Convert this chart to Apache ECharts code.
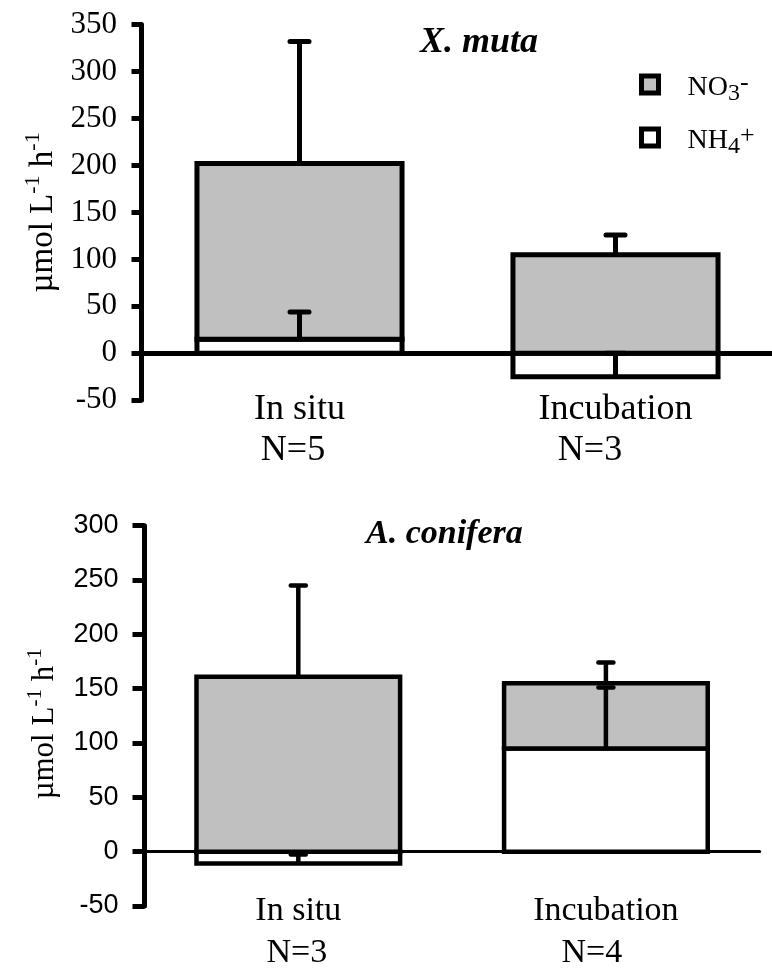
<!DOCTYPE html>
<html>
<head>
<meta charset="utf-8">
<script src="https://cdn.jsdelivr.net/npm/echarts@6/dist/echarts.min.js"></script>
<style>
html,body{margin:0;padding:0;background:#fff;}
#chart{width:772px;height:972px;}
</style>
</head>
<body>
<div id="chart"></div>
<script>
// ---------- data ----------
const categories = ['In situ', 'Incubation'];
// X. muta (top panel)
const xmN = ['N=5', 'N=3'];
const xmNH4 = [15, -25];
const xmNO3 = [187, 105];
const xmNO3ErrTop = [332, 126];   // upper end of the total (NO3) error bar
const xmNH4ErrEnd = [44, 0];      // end of the NH4 error bar
const xmTicks = [-50, 0, 50, 100, 150, 200, 250, 300, 350];
// A. conifera (bottom panel)
const acN = ['N=3', 'N=4'];
const acNH4 = [-11, 95];
const acNO3 = [161, 60];
const acNO3ErrTop = [245, 174];
const acNH4ErrEnd = [-2.5, 151];
const acTicks = [-50, 0, 50, 100, 150, 200, 250, 300];

// ---------- style ----------
const SERIF = "'Liberation Serif','Times New Roman',serif";
const SANS = "'Liberation Sans',Arial,sans-serif";
const GRAY = '#c0c0c0';

function nh4Data(nh4) {
  return nh4.map((v, i) => [i, 0, v]);
}
function no3Data(nh4, no3) {
  return no3.map((v, i) => { const b = nh4[i] > 0 ? nh4[i] : 0; return [i, b, b + v]; });
}
function errData(nh4, no3, totTop, nh4End) {
  const d = [];
  for (let i = 0; i < nh4.length; i++) {
    const base = (nh4[i] > 0 ? nh4[i] : 0) + no3[i];
    d.push([i, base, totTop[i]]);
    d.push([i, nh4[i], nh4End[i]]);
  }
  return d;
}

function barRender(ratio, lw) {
  return function (params, api) {
    const c = api.value(0);
    const a = api.coord([c, api.value(1)]);
    const b = api.coord([c, api.value(2)]);
    const w = api.size([1, 0])[0] * ratio;
    return {
      type: 'rect',
      shape: { x: a[0] - w / 2, y: Math.min(a[1], b[1]), width: w, height: Math.abs(a[1] - b[1]) },
      style: { fill: api.visual('color'), stroke: '#000', lineWidth: lw, lineJoin: 'miter' }
    };
  };
}

function errRender(capLen, lw) {
  return function (params, api) {
    const a = api.coord([api.value(0), api.value(1)]);
    const b = api.coord([api.value(0), api.value(2)]);
    return {
      type: 'group',
      children: [
        { type: 'line', shape: { x1: a[0], y1: a[1], x2: b[0], y2: b[1] },
          style: { stroke: '#000', lineWidth: lw } },
        { type: 'line', shape: { x1: b[0] - capLen / 2, y1: b[1], x2: b[0] + capLen / 2, y2: b[1] },
          style: { stroke: '#000', lineWidth: lw, lineCap: 'round' } }
      ]
    };
  };
}

function catLabel(nArr, fs, lh, shifts) {
  const rich = { a: { fontFamily: SERIF, fontSize: fs, lineHeight: lh, color: '#000' } };
  shifts.forEach((s, i) => {
    rich['b' + i] = { fontFamily: SERIF, fontSize: fs, lineHeight: lh, color: '#000', padding: [0, s, 0, 0] };
  });
  return {
    rich: rich,
    formatter: function (v, idx) { return '{a|' + v + '}\n{b' + idx + '|' + nArr[idx] + '}'; }
  };
}

function yName(fs, sfs, endPad) {
  return {
    text: '{a|\u00b5mol L}{s|-1}{a| h}{s|-1}',
    style: {
      padding: [0, endPad, 0, 0],
      rich: {
        a: { fontFamily: SERIF, fontSize: fs, lineHeight: fs + 4, color: '#000', verticalAlign: 'bottom' },
        s: { fontFamily: SERIF, fontSize: sfs, lineHeight: sfs + 2, color: '#000', verticalAlign: 'top' }
      }
    }
  };
}

const yn1 = yName(33, 22, 0);
const yn2 = yName(31, 21, 16);
const cl1 = catLabel(xmN, 36, 41, [13, 51]);
const cl2 = catLabel(acN, 34, 42, [3, 28]);

const chart = echarts.init(document.getElementById('chart'), null, { renderer: 'canvas' });
chart.setOption({
  animation: false,
  backgroundColor: '#fff',
  title: [
    { text: 'X. muta', left: 415, top: 20,
      textStyle: { fontFamily: SERIF, fontSize: 36, fontStyle: 'italic', fontWeight: 'bold', color: '#000' } },
    { text: 'A. conifera', left: 361, top: 512,
      textStyle: { fontFamily: SERIF, fontSize: 34, fontStyle: 'italic', fontWeight: 'bold', color: '#000' } }
  ],
  legend: {
    data: ['NO3', 'NH4'],
    orient: 'vertical',
    left: 634, top: 65,
    itemWidth: 17, itemHeight: 17, itemGap: 17,
    icon: 'rect',
    selectedMode: false,
    itemStyle: { borderColor: '#000', borderWidth: 5 },
    formatter: function (name) {
      return name === 'NO3' ? '{n|NO}{sub|3}{sup|-}' : '{n|NH}{sub|4}{sup|+}';
    },
    textStyle: {
      padding: [7, 0, 0, 24],
      rich: {
        n: { fontFamily: SERIF, fontSize: 28, lineHeight: 36, color: '#000', verticalAlign: 'middle' },
        sub: { fontFamily: SERIF, fontSize: 24, lineHeight: 17, color: '#000', verticalAlign: 'bottom' },
        sup: { fontFamily: SERIF, fontSize: 26, lineHeight: 18, color: '#000', verticalAlign: 'top' }
      }
    }
  },
  grid: [
    { left: 141.5, top: 24.5, width: 632, height: 375.8, containLabel: false, outerBoundsMode: 'none' },
    { left: 144.5, top: 525.7, width: 615.2, height: 380.3, containLabel: false, outerBoundsMode: 'none' }
  ],
  xAxis: [
    { type: 'category', gridIndex: 0, data: categories,
      axisLine: { onZero: true, lineStyle: { color: '#000', width: 5 } },
      axisTick: { show: false },
      axisLabel: { interval: 0, margin: -11, color: '#000', formatter: cl1.formatter, rich: cl1.rich } },
    { type: 'category', gridIndex: 1, data: categories,
      axisLine: { onZero: true, lineStyle: { color: '#000', width: 3 } },
      axisTick: { show: false },
      axisLabel: { interval: 0, margin: -16, color: '#000', formatter: cl2.formatter, rich: cl2.rich } }
  ],
  yAxis: [
    { type: 'value', gridIndex: 0, min: xmTicks[0], max: xmTicks[xmTicks.length - 1], interval: 50,
      splitLine: { show: false },
      axisLine: { show: true, lineStyle: { color: '#000', width: 5 } },
      axisTick: { show: true, length: 10, lineStyle: { color: '#000', width: 5 } },
      axisLabel: { margin: 24.5, fontFamily: SERIF, fontSize: 31, color: '#000' },
      name: yn1.text, nameLocation: 'middle', nameGap: 72, nameRotate: 90,
      nameTextStyle: yn1.style },
    { type: 'value', gridIndex: 1, min: acTicks[0], max: acTicks[acTicks.length - 1], interval: 50,
      splitLine: { show: false },
      axisLine: { show: true, lineStyle: { color: '#000', width: 5 } },
      axisTick: { show: true, length: 12, lineStyle: { color: '#000', width: 5 } },
      axisLabel: { margin: 26, fontFamily: SANS, fontSize: 27, color: '#000' },
      name: yn2.text, nameLocation: 'middle', nameGap: 84.5, nameRotate: 90,
      nameTextStyle: yn2.style }
  ],
  series: [
    { type: 'custom', name: 'NH4', xAxisIndex: 0, yAxisIndex: 0, z: 3, clip: false,
      data: nh4Data(xmNH4), encode: { x: 0, y: [1, 2] },
      itemStyle: { color: '#fff' }, renderItem: barRender(0.649, 5) },
    { type: 'custom', name: 'NO3', xAxisIndex: 0, yAxisIndex: 0, z: 4, clip: false,
      data: no3Data(xmNH4, xmNO3), encode: { x: 0, y: [1, 2] },
      itemStyle: { color: GRAY }, renderItem: barRender(0.649, 5) },
    { type: 'custom', name: 'NH4', xAxisIndex: 1, yAxisIndex: 1, z: 3, clip: false,
      data: nh4Data(acNH4), encode: { x: 0, y: [1, 2] },
      itemStyle: { color: '#fff' }, renderItem: barRender(0.662, 4.5) },
    { type: 'custom', name: 'NO3', xAxisIndex: 1, yAxisIndex: 1, z: 4, clip: false,
      data: no3Data(acNH4, acNO3), encode: { x: 0, y: [1, 2] },
      itemStyle: { color: GRAY }, renderItem: barRender(0.662, 4.5) },
    { type: 'custom', name: 'errXm', xAxisIndex: 0, yAxisIndex: 0, z: 10, clip: false,
      data: errData(xmNH4, xmNO3, xmNO3ErrTop, xmNH4ErrEnd),
      encode: { x: 0, y: [1, 2] }, renderItem: errRender(19, 5) },
    { type: 'custom', name: 'errAc', xAxisIndex: 1, yAxisIndex: 1, z: 10, clip: false,
      data: errData(acNH4, acNO3, acNO3ErrTop, acNH4ErrEnd),
      encode: { x: 0, y: [1, 2] }, renderItem: errRender(15, 4.5) }
  ]
});
</script>
</body>
</html>
